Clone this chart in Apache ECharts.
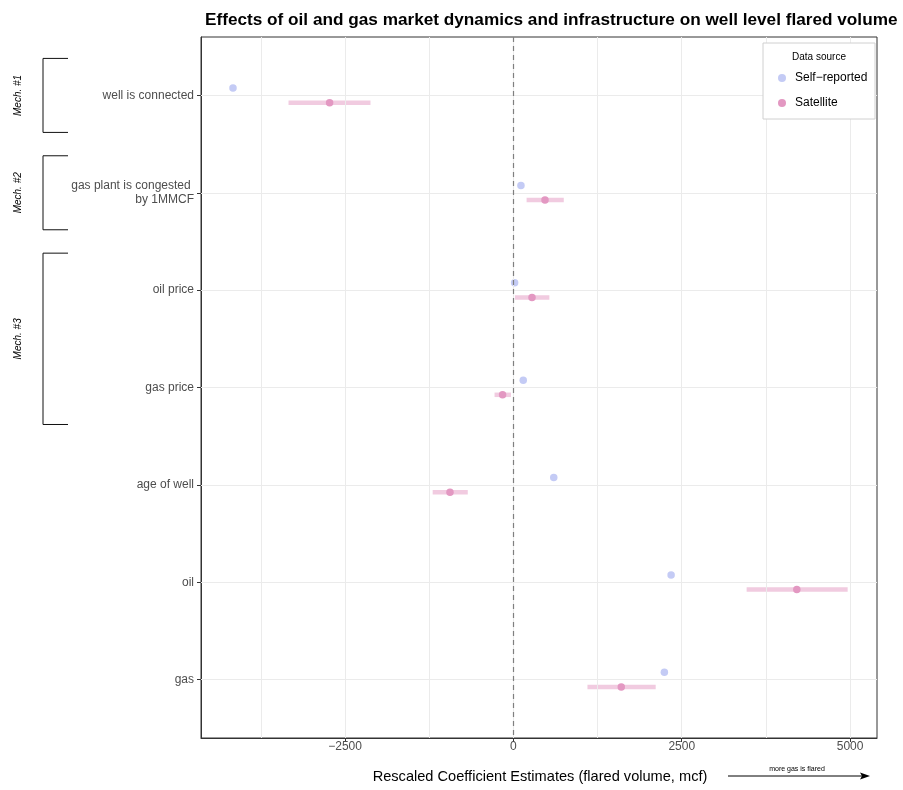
<!DOCTYPE html>
<html>
<head>
<meta charset="utf-8">
<title>Flared volume coefficients</title>
<script src="https://cdn.jsdelivr.net/npm/echarts@6/dist/echarts.min.js"></script>
<style>
  html, body { margin: 0; padding: 0; background: #fff; }
  #chart { width: 903px; height: 790px; }
</style>
</head>
<body>
<div id="chart"></div>
<script>
// Regressors, listed top to bottom
const categories = [
  'well is connected',
  'gas plant is congested \nby 1MMCF',
  'oil price',
  'gas price',
  'age of well',
  'oil',
  'gas'
];

// Point estimates from the self-reported data (no intervals)
const selfReported = [-4165, 112, 18, 146, 599, 2342, 2242];

// Satellite-based estimates with confidence bounds
const satellite = [-2730, 469, 276, -161, -942, 4209, 1602];
const satelliteLow = [-3340, 196, 22, -280, -1199, 3464, 1100];
const satelliteHigh = [-2123, 748, 534, -37, -678, 4964, 2113];

// x-axis ticks and grid lines
const xTicks = [-2500, 0, 2500, 5000];
const xMinorGrid = [-3750, -1250, 1250, 3750];

// Mechanism groups: [label, first category index, last category index]
const mechanisms = [
  ['Mech. #1', 0, 0],
  ['Mech. #2', 1, 1],
  ['Mech. #3', 2, 3]
];

const FONT = '"Liberation Sans", Arial, Helvetica, sans-serif';
const BLUE = '#c4cbf5';
const PINK = '#e398c2';
const PINK_BAR = 'rgba(227, 152, 194, 0.5)';
const DODGE = 0.075;

const yPos = categories.map((_, i) => i + 1);

const chart = echarts.init(document.getElementById('chart'), null, { renderer: 'canvas' });

const option = {
  animation: false,
  backgroundColor: '#fff',
  textStyle: { fontFamily: FONT },
  title: {
    text: 'Effects of oil and gas market dynamics and infrastructure on well level flared volume',
    left: 200,
    top: 7,
    textStyle: { fontFamily: FONT, fontSize: 17.2, fontWeight: 'bold', color: '#000' }
  },
  grid: {
    left: 201, right: 26, top: 37, bottom: 52,
    show: true, borderColor: '#333', borderWidth: 1, backgroundColor: 'transparent'
  },
  legend: {
    orient: 'vertical',
    left: 773,
    top: 67,
    z: 100,
    icon: 'circle',
    itemWidth: 8,
    itemHeight: 8,
    itemGap: 13,
    textStyle: { fontFamily: FONT, fontSize: 12, color: '#000', padding: [0, 0, 0, 4] },
    data: ['Self\u2212reported', 'Satellite']
  },
  xAxis: {
    type: 'value',
    min: -4640,
    max: 5400,
    axisLine: { show: true, onZero: false, lineStyle: { color: '#333', width: 1 } },
    splitLine: { show: false },
    axisTick: { show: true, customValues: xTicks, length: 4, lineStyle: { color: '#333' } },
    axisLabel: {
      customValues: xTicks,
      color: '#4d4d4d', fontSize: 12, fontFamily: FONT, margin: 3,
      formatter: v => (v < 0 ? '\u2212' + Math.abs(v) : String(v))
    }
  },
  yAxis: {
    type: 'value',
    inverse: true,
    min: 0.4,
    max: 7.6,
    axisLine: { show: true, onZero: false, lineStyle: { color: '#333', width: 1 } },
    splitLine: { show: false },
    axisTick: { show: true, customValues: yPos, length: 4, lineStyle: { color: '#333' } },
    axisLabel: {
      customValues: yPos,
      color: '#4d4d4d', fontSize: 12, fontFamily: FONT, margin: 7, align: 'right', lineHeight: 14,
      formatter: v => categories[Math.round(v) - 1] || ''
    }
  },
  series: [
    {
      // background grid lines
      name: 'grid',
      type: 'line',
      data: [],
      silent: true,
      markLine: {
        silent: true,
        symbol: ['none', 'none'],
        label: { show: false },
        animation: false,
        data: [
          ...xTicks.map(v => ({ xAxis: v, lineStyle: { color: '#ebebeb', width: 1, type: 'solid' } })),
          ...xMinorGrid.map(v => ({ xAxis: v, lineStyle: { color: '#ebebeb', width: 1, type: 'solid' } })),
          ...yPos.map(v => ({ yAxis: v, lineStyle: { color: '#ebebeb', width: 1, type: 'solid' } })),
          { xAxis: 0, lineStyle: { color: '#7f7f7f', width: 1.2, type: [5, 4] } }
        ]
      },
      z: 1
    },
    {
      name: 'Satellite CI',
      type: 'custom',
      silent: true,
      data: satellite.map((_, i) => [satelliteLow[i], satelliteHigh[i], i + 1 + DODGE]),
      encode: { x: [0, 1], y: 2 },
      renderItem: (params, api) => {
        const p1 = api.coord([api.value(0), api.value(2)]);
        const p2 = api.coord([api.value(1), api.value(2)]);
        return {
          type: 'line',
          shape: { x1: p1[0], y1: p1[1], x2: p2[0], y2: p2[1] },
          style: { stroke: PINK_BAR, lineWidth: 4.5 }
        };
      },
      z: 3
    },
    {
      name: 'Self\u2212reported',
      type: 'scatter',
      symbolSize: 7.5,
      itemStyle: { color: BLUE, opacity: 1 },
      data: selfReported.map((v, i) => [v, i + 1 - DODGE]),
      z: 4
    },
    {
      name: 'Satellite',
      type: 'scatter',
      symbolSize: 7.5,
      itemStyle: { color: PINK, opacity: 1 },
      data: satellite.map((v, i) => [v, i + 1 + DODGE]),
      z: 5
    }
  ]
};

chart.setOption(option);

// Annotations outside the plot panel: legend box, axis title, arrow, mechanism brackets
const graphics = [
  {
    type: 'rect',
    shape: { x: 763, y: 43, width: 112, height: 76 },
    style: { fill: '#fff', stroke: '#d0d0d0', lineWidth: 1 },
    z: 50
  },
  {
    type: 'text',
    x: 819, y: 57,
    style: { text: 'Data source', fontFamily: FONT, fontSize: 10, fill: '#000', align: 'center', verticalAlign: 'middle' },
    z: 51
  },
  {
    type: 'text',
    x: 540, y: 777,
    style: {
      text: 'Rescaled Coefficient Estimates (flared volume, mcf)',
      fontFamily: FONT, fontSize: 14.6, fill: '#000', align: 'center', verticalAlign: 'middle'
    }
  },
  {
    type: 'line',
    shape: { x1: 728, y1: 776, x2: 862, y2: 776 },
    style: { stroke: '#000', lineWidth: 1 }
  },
  {
    type: 'polygon',
    shape: { points: [[870, 776], [860, 772.5], [862, 776], [860, 779.5]] },
    style: { fill: '#000' }
  },
  {
    type: 'text',
    x: 797, y: 769,
    style: {
      text: 'more gas is flared',
      fontFamily: '"Liberation Sans Narrow", "Liberation Sans", Arial, sans-serif',
      fontSize: 7, fill: '#000', align: 'center', verticalAlign: 'middle'
    }
  }
];

const HALF = 0.38;
mechanisms.forEach(([label, first, last]) => {
  const yTop = chart.convertToPixel({ yAxisIndex: 0 }, first + 1 - HALF);
  const yBot = chart.convertToPixel({ yAxisIndex: 0 }, last + 1 + HALF);
  graphics.push({
    type: 'polyline',
    shape: { points: [[68, yTop], [43, yTop], [43, yBot], [68, yBot]] },
    style: { stroke: '#111', lineWidth: 1, fill: null }
  });
  graphics.push({
    type: 'text',
    x: 18, y: (yTop + yBot) / 2,
    rotation: Math.PI / 2,
    style: {
      text: label, fontFamily: FONT, fontSize: 10, fontStyle: 'italic', fill: '#000',
      align: 'center', verticalAlign: 'middle'
    }
  });
});

chart.setOption({ graphic: graphics });
</script>
</body>
</html>
